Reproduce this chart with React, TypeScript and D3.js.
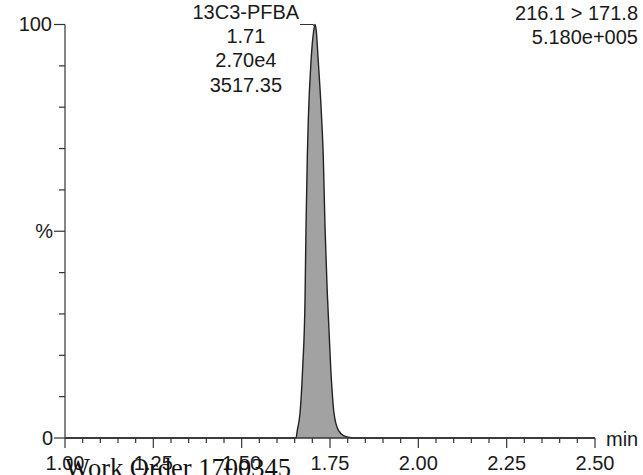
import React from "react";
import * as d3 from "d3";

const times = [1.0, 1.6, 1.6538, 1.6575, 1.6651, 1.6727, 1.6792, 1.6821, 1.6858, 1.6886, 1.6962, 1.704, 1.7076, 1.711, 1.7169, 1.7265, 1.731, 1.7359, 1.7424, 1.752, 1.7613, 1.7735, 1.79, 1.801, 1.82, 2.5];
const intensities = [0, 0, 0, 1.9, 6, 17, 33, 51, 68, 77, 91, 98.5, 100, 98.5, 91, 77, 68, 51, 35, 17, 6, 1.9, 0.5, 0.2, 0, 0];

const xMajorTicks = [1.0, 1.25, 1.5, 1.75, 2.0, 2.25, 2.5];
const xTickLabels = ["1.00", "1.25", "1.50", "1.75", "2.00", "2.25", "2.50"];
const yTicks = [0, 10, 20, 30, 40, 50, 60, 70, 80, 90, 100];

const peakTime = 1.71;
const peakLabel = ["13C3-PFBA", "1.71", "2.70e4", "3517.35"];
const traceLabel = ["216.1 > 171.8", "5.180e+005"];
const footer = "Work Order 1700345";

const W = 643;
const H = 475;
const x0 = 65, x1 = 595, yTop = 24.5, yBot = 438;
const font = "'Liberation Sans', Arial, sans-serif";
const ink = "#1a1a1a";

export default function App() {
  const x = d3.scaleLinear().domain([1.0, 2.5]).range([x0, x1]);
  const y = d3.scaleLinear().domain([0, 100]).range([yBot, yTop]);
  const data = times.map((t, i) => ({ t, v: intensities[i] }));
  const area = d3
    .area<{ t: number; v: number }>()
    .x((d) => x(d.t))
    .y0(y(0))
    .y1((d) => y(d.v))
    .curve(d3.curveMonotoneX);
  const line = d3
    .line<{ t: number; v: number }>()
    .x((d) => x(d.t))
    .y((d) => y(d.v))
    .curve(d3.curveMonotoneX);
  const minorTicks = d3.range(0, 31).map((i) => 1 + i * 0.05);
  const apexIdx = intensities.indexOf(100);
  const apexX = x(times[apexIdx]);
  const apexY = y(100);

  return (
    <svg width={W} height={H} style={{ position: "absolute", left: 0, top: 0, background: "#fff" }}>
      <rect x={0} y={0} width={W} height={H} fill="#fff" />
      {/* peak */}
      <path d={area(data) || ""} fill="#a2a2a2" stroke="none" />
      <path d={line(data) || ""} fill="none" stroke="#222" strokeWidth={1.4} />
      {/* axes */}
      <line x1={x0} x2={x0} y1={yTop} y2={yBot} stroke="#333" strokeWidth={1.2} />
      <line x1={x0} x2={x1} y1={yBot} y2={yBot} stroke="#333" strokeWidth={1.5} />
      {yTicks.map((v) => {
        const major = v === 0 || v === 50 || v === 100;
        return (
          <line key={"yt" + v} x1={x0 - (major ? 11 : 6)} x2={x0} y1={y(v)} y2={y(v)} stroke="#333" strokeWidth={1.2} />
        );
      })}
      {minorTicks.map((t, i) => (
        <line key={"xm" + i} x1={x(t)} x2={x(t)} y1={yBot} y2={yBot + (i % 5 === 0 ? 10 : 5)} stroke="#333" strokeWidth={1.2} />
      ))}
      {/* y labels */}
      <g fontFamily={font} fontSize={20} fill={ink} textAnchor="end">
        <text x={52} y={y(100) + 6.5}>100</text>
        <text x={53} y={y(50) + 7}>%</text>
        <text x={53} y={y(0) + 7}>0</text>
      </g>
      {/* x labels */}
      <g fontFamily={font} fontSize={20} fill={ink} textAnchor="middle">
        {xMajorTicks.map((t, i) => (
          <text key={"xl" + i} x={x(t)} y={470}>{xTickLabels[i]}</text>
        ))}
      </g>
      <text x={606} y={446} fontFamily={font} fontSize={20} fill={ink}>min</text>
      {/* peak annotation */}
      <path d={`M${apexX - 15},${apexY} L${apexX - 2},${apexY} L${apexX},${apexY + 2}`} fill="none" stroke="#333" strokeWidth={1.2} />
      <g fontFamily={font} fontSize={20} fill={ink} textAnchor="middle">
        {peakLabel.map((s, i) => (
          <text key={"pl" + i} x={x(peakTime) - 70} y={19 + i * 24.2}>{s}</text>
        ))}
      </g>
      <g fontFamily={font} fontSize={20} fill={ink} textAnchor="end">
        {traceLabel.map((s, i) => (
          <text key={"tl" + i} x={638} y={20 + i * 24}>{s}</text>
        ))}
      </g>
      <text x={65} y={477} fontFamily="'Liberation Serif', 'Times New Roman', serif" fontSize={26.5} fill="#111">{footer}</text>
    </svg>
  );
}
